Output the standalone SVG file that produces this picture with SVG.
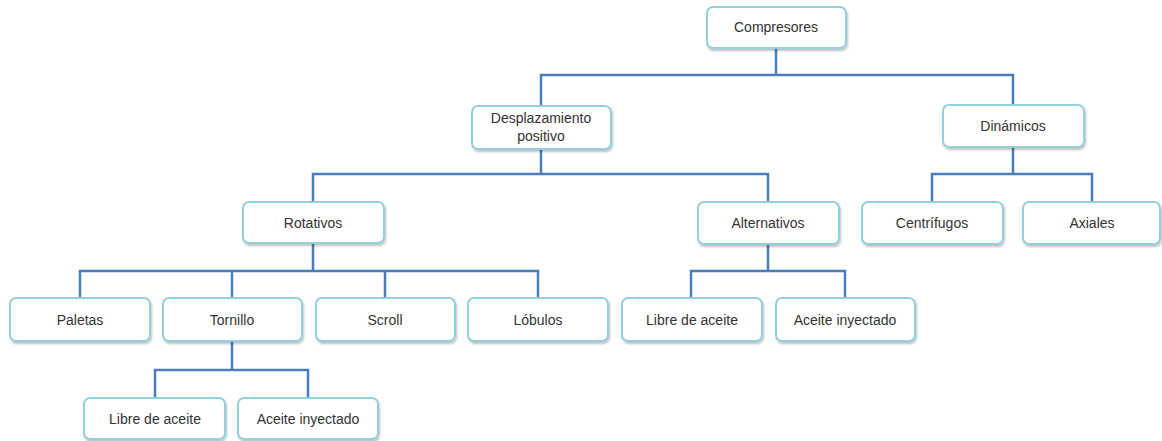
<svg xmlns="http://www.w3.org/2000/svg" width="1162" height="441" viewBox="0 0 1162 441">
<defs>
<filter id="sh" x="-10%" y="-20%" width="120%" height="150%">
<feDropShadow dx="1" dy="2" stdDeviation="1.2" flood-color="#000" flood-opacity="0.25"/>
</filter>
<style>
.box{fill:#fff;stroke:#92d0e0;stroke-width:2;filter:url(#sh)}
.t{font-family:"Liberation Sans",Arial,sans-serif;font-size:14px;fill:#333;text-anchor:middle}
.c{fill:none;stroke:#4a7ebb;stroke-width:2.5}
</style>
</defs>
<rect width="1162" height="441" fill="#fff"/>
<g id="connectors">
<path class="c" d="M776 48V75M541 105V75H1013V105"/>
<path class="c" d="M541 149V174M313 202V174H768V202"/>
<path class="c" d="M1013 147V174M932 202V174H1092V202"/>
<path class="c" d="M313 243V271M80 298V271H538V298M232 298V271M385 298V271"/>
<path class="c" d="M768 244V271M691 298V271H845V298"/>
<path class="c" d="M232 341V370M155 398V370H308V398"/>
</g>
<g id="n-compresores"><rect class="box" x="707" y="7" width="139" height="41" rx="6"/><text class="t" x="776" y="32">Compresores</text></g>
<g id="n-desplazamiento"><rect class="box" x="472" y="106" width="139" height="43" rx="6"/><text class="t" x="541" y="123">Desplazamiento</text><text class="t" x="541" y="141">positivo</text></g>
<g id="n-dinamicos"><rect class="box" x="943" y="105" width="141" height="42" rx="6"/><text class="t" x="1013" y="131">Dinámicos</text></g>
<g id="n-rotativos"><rect class="box" x="243" y="202" width="141" height="41" rx="6"/><text class="t" x="313" y="228">Rotativos</text></g>
<g id="n-alternativos"><rect class="box" x="698" y="202" width="141" height="42" rx="6"/><text class="t" x="768" y="228">Alternativos</text></g>
<g id="n-centrifugos"><rect class="box" x="862" y="202" width="141" height="42" rx="6"/><text class="t" x="932" y="228">Centrífugos</text></g>
<g id="n-axiales"><rect class="box" x="1023" y="202" width="137" height="42" rx="6"/><text class="t" x="1092" y="228">Axiales</text></g>
<g id="n-paletas"><rect class="box" x="10" y="298" width="140" height="43" rx="6"/><text class="t" x="80" y="325">Paletas</text></g>
<g id="n-tornillo"><rect class="box" x="163" y="298" width="139" height="43" rx="6"/><text class="t" x="232" y="325">Tornillo</text></g>
<g id="n-scroll"><rect class="box" x="316" y="298" width="139" height="43" rx="6"/><text class="t" x="385" y="325">Scroll</text></g>
<g id="n-lobulos"><rect class="box" x="468" y="298" width="140" height="43" rx="6"/><text class="t" x="538" y="325">Lóbulos</text></g>
<g id="n-alt-libre"><rect class="box" x="622" y="298" width="140" height="43" rx="6"/><text class="t" x="692" y="325">Libre de aceite</text></g>
<g id="n-alt-aceite"><rect class="box" x="776" y="298" width="139" height="43" rx="6"/><text class="t" x="845" y="325">Aceite inyectado</text></g>
<g id="n-tor-libre"><rect class="box" x="84" y="398" width="141" height="41" rx="6"/><text class="t" x="155" y="424">Libre de aceite</text></g>
<g id="n-tor-aceite"><rect class="box" x="238" y="398" width="140" height="41" rx="6"/><text class="t" x="308" y="424">Aceite inyectado</text></g>
</svg>
